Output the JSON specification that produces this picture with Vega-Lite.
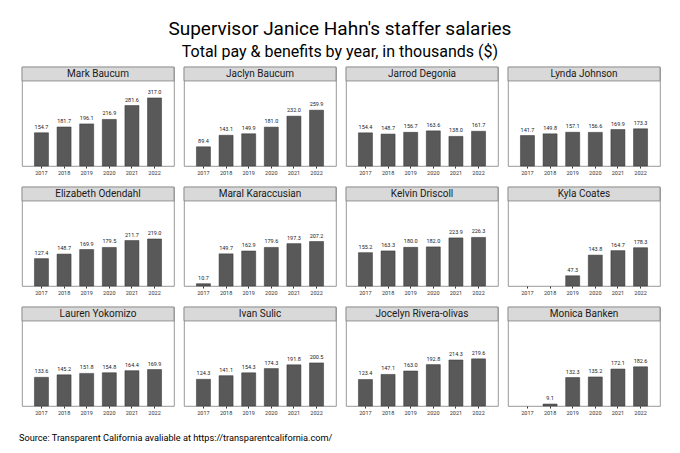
{
  "$schema": "https://vega.github.io/schema/vega-lite/v6.json",
  "padding": {"left": 19, "top": 20, "right": 5, "bottom": 5},
  "background": "white",
  "title": {
    "text": "Supervisor Janice Hahn's staffer salaries",
    "subtitle": "Total pay & benefits by year, in thousands ($)",
    "anchor": "middle",
    "font": "Roboto",
    "subtitleFont": "Roboto",
    "fontSize": 19,
    "subtitleFontSize": 16,
    "fontWeight": "normal",
    "color": "black",
    "subtitleColor": "black",
    "subtitlePadding": 5,
    "offset": 5
  },
  "data": {
    "values": [
      {"name": "Mark Baucum", "year": 2017, "pay": 154.7},
      {"name": "Mark Baucum", "year": 2018, "pay": 181.7},
      {"name": "Mark Baucum", "year": 2019, "pay": 196.1},
      {"name": "Mark Baucum", "year": 2020, "pay": 216.9},
      {"name": "Mark Baucum", "year": 2021, "pay": 281.6},
      {"name": "Mark Baucum", "year": 2022, "pay": 317.0},
      {"name": "Jaclyn Baucum", "year": 2017, "pay": 89.4},
      {"name": "Jaclyn Baucum", "year": 2018, "pay": 143.1},
      {"name": "Jaclyn Baucum", "year": 2019, "pay": 149.9},
      {"name": "Jaclyn Baucum", "year": 2020, "pay": 181.0},
      {"name": "Jaclyn Baucum", "year": 2021, "pay": 232.0},
      {"name": "Jaclyn Baucum", "year": 2022, "pay": 259.9},
      {"name": "Jarrod Degonia", "year": 2017, "pay": 154.4},
      {"name": "Jarrod Degonia", "year": 2018, "pay": 148.7},
      {"name": "Jarrod Degonia", "year": 2019, "pay": 156.7},
      {"name": "Jarrod Degonia", "year": 2020, "pay": 163.6},
      {"name": "Jarrod Degonia", "year": 2021, "pay": 138.0},
      {"name": "Jarrod Degonia", "year": 2022, "pay": 161.7},
      {"name": "Lynda Johnson", "year": 2017, "pay": 141.7},
      {"name": "Lynda Johnson", "year": 2018, "pay": 149.8},
      {"name": "Lynda Johnson", "year": 2019, "pay": 157.1},
      {"name": "Lynda Johnson", "year": 2020, "pay": 156.6},
      {"name": "Lynda Johnson", "year": 2021, "pay": 169.9},
      {"name": "Lynda Johnson", "year": 2022, "pay": 173.3},
      {"name": "Elizabeth Odendahl", "year": 2017, "pay": 127.4},
      {"name": "Elizabeth Odendahl", "year": 2018, "pay": 148.7},
      {"name": "Elizabeth Odendahl", "year": 2019, "pay": 169.9},
      {"name": "Elizabeth Odendahl", "year": 2020, "pay": 179.5},
      {"name": "Elizabeth Odendahl", "year": 2021, "pay": 211.7},
      {"name": "Elizabeth Odendahl", "year": 2022, "pay": 219.0},
      {"name": "Maral Karaccusian", "year": 2017, "pay": 10.7},
      {"name": "Maral Karaccusian", "year": 2018, "pay": 149.7},
      {"name": "Maral Karaccusian", "year": 2019, "pay": 162.9},
      {"name": "Maral Karaccusian", "year": 2020, "pay": 179.6},
      {"name": "Maral Karaccusian", "year": 2021, "pay": 197.3},
      {"name": "Maral Karaccusian", "year": 2022, "pay": 207.2},
      {"name": "Kelvin Driscoll", "year": 2017, "pay": 155.2},
      {"name": "Kelvin Driscoll", "year": 2018, "pay": 163.3},
      {"name": "Kelvin Driscoll", "year": 2019, "pay": 180.0},
      {"name": "Kelvin Driscoll", "year": 2020, "pay": 182.0},
      {"name": "Kelvin Driscoll", "year": 2021, "pay": 223.9},
      {"name": "Kelvin Driscoll", "year": 2022, "pay": 226.3},
      {"name": "Kyla Coates", "year": 2019, "pay": 47.3},
      {"name": "Kyla Coates", "year": 2020, "pay": 143.8},
      {"name": "Kyla Coates", "year": 2021, "pay": 164.7},
      {"name": "Kyla Coates", "year": 2022, "pay": 178.3},
      {"name": "Lauren Yokomizo", "year": 2017, "pay": 133.6},
      {"name": "Lauren Yokomizo", "year": 2018, "pay": 145.2},
      {"name": "Lauren Yokomizo", "year": 2019, "pay": 151.8},
      {"name": "Lauren Yokomizo", "year": 2020, "pay": 154.8},
      {"name": "Lauren Yokomizo", "year": 2021, "pay": 164.4},
      {"name": "Lauren Yokomizo", "year": 2022, "pay": 169.9},
      {"name": "Ivan Sulic", "year": 2017, "pay": 124.3},
      {"name": "Ivan Sulic", "year": 2018, "pay": 141.1},
      {"name": "Ivan Sulic", "year": 2019, "pay": 154.3},
      {"name": "Ivan Sulic", "year": 2020, "pay": 174.3},
      {"name": "Ivan Sulic", "year": 2021, "pay": 191.8},
      {"name": "Ivan Sulic", "year": 2022, "pay": 200.5},
      {"name": "Jocelyn Rivera-olivas", "year": 2017, "pay": 123.4},
      {"name": "Jocelyn Rivera-olivas", "year": 2018, "pay": 147.1},
      {"name": "Jocelyn Rivera-olivas", "year": 2019, "pay": 163.0},
      {"name": "Jocelyn Rivera-olivas", "year": 2020, "pay": 192.8},
      {"name": "Jocelyn Rivera-olivas", "year": 2021, "pay": 214.3},
      {"name": "Jocelyn Rivera-olivas", "year": 2022, "pay": 219.6},
      {"name": "Monica Banken", "year": 2018, "pay": 9.1},
      {"name": "Monica Banken", "year": 2019, "pay": 132.3},
      {"name": "Monica Banken", "year": 2020, "pay": 135.2},
      {"name": "Monica Banken", "year": 2021, "pay": 172.1},
      {"name": "Monica Banken", "year": 2022, "pay": 182.6}
    ]
  },
  "vconcat": [
    {
      "title": {
        "text": "Source: Transparent California avaliable at https://transparentcalifornia.com/",
        "orient": "bottom",
        "anchor": "start",
        "font": "Roboto",
        "fontSize": 9.2,
        "fontWeight": "normal",
        "color": "black",
        "offset": 18,
        "dx": -2
      },
      "facet": {
        "field": "name",
        "type": "nominal",
        "sort": [
          "Mark Baucum", "Jaclyn Baucum", "Jarrod Degonia", "Lynda Johnson",
          "Elizabeth Odendahl", "Maral Karaccusian", "Kelvin Driscoll", "Kyla Coates",
          "Lauren Yokomizo", "Ivan Sulic", "Jocelyn Rivera-olivas", "Monica Banken"
        ],
        "header": {"title": null, "labelExpr": "''", "labelFontSize": 1, "labelPadding": 0}
      },
      "columns": 4,
      "spacing": {"row": 9, "column": 8},
      "resolve": {"axis": {"x": "independent"}},
      "spec": {
        "width": 152,
        "height": 99,
        "layer": [
          {
            "transform": [{"filter": "datum.year == 2022"}],
            "mark": {"type": "rect", "fill": "#d9d9d9", "stroke": "#7f7f7f", "strokeWidth": 0.8},
            "encoding": {
              "y": {"datum": 396, "type": "quantitative"},
              "y2": {"datum": 461}
            }
          },
          {
            "transform": [{"filter": "datum.year == 2022"}],
            "mark": {"type": "text", "baseline": "middle", "align": "center", "fontSize": 10, "font": "Roboto", "color": "#1a1a1a"},
            "encoding": {
              "y": {"datum": 428.5, "type": "quantitative"},
              "text": {"field": "name", "type": "nominal"}
            }
          },
          {
            "mark": {"type": "bar", "color": "#595959", "stroke": "#333333", "strokeWidth": 0.5},
            "encoding": {
              "x": {
                "field": "year",
                "type": "ordinal",
                "scale": {
                  "domain": [2017, 2018, 2019, 2020, 2021, 2022],
                  "paddingInner": 0.38,
                  "paddingOuter": 0.55
                },
                "axis": {
                  "title": null,
                  "labelAngle": 0,
                  "labelFontSize": 5.5,
                  "labelFont": "Roboto",
                  "labelColor": "#333333",
                  "labelPadding": 2,
                  "tickSize": 2,
                  "tickColor": "#333333",
                  "domain": false
                }
              },
              "y": {
                "field": "pay",
                "type": "quantitative",
                "scale": {"domain": [0, 461], "nice": false},
                "axis": {
                  "title": null,
                  "labels": false,
                  "ticks": false,
                  "domain": false,
                  "values": [100, 200, 300],
                  "gridColor": "#ebebeb",
                  "gridWidth": 0.8
                }
              }
            }
          },
          {
            "mark": {"type": "text", "baseline": "bottom", "dy": -3, "fontSize": 5.5, "font": "Roboto", "color": "#1a1a1a"},
            "encoding": {
              "x": {"field": "year", "type": "ordinal"},
              "y": {"field": "pay", "type": "quantitative"},
              "text": {"field": "pay", "type": "quantitative", "format": ".1f"}
            }
          }
        ]
      }
    }
  ],
  "config": {
    "view": {"stroke": "#7f7f7f", "strokeWidth": 0.8},
    "axis": {"gridColor": "#ebebeb"}
  }
}
